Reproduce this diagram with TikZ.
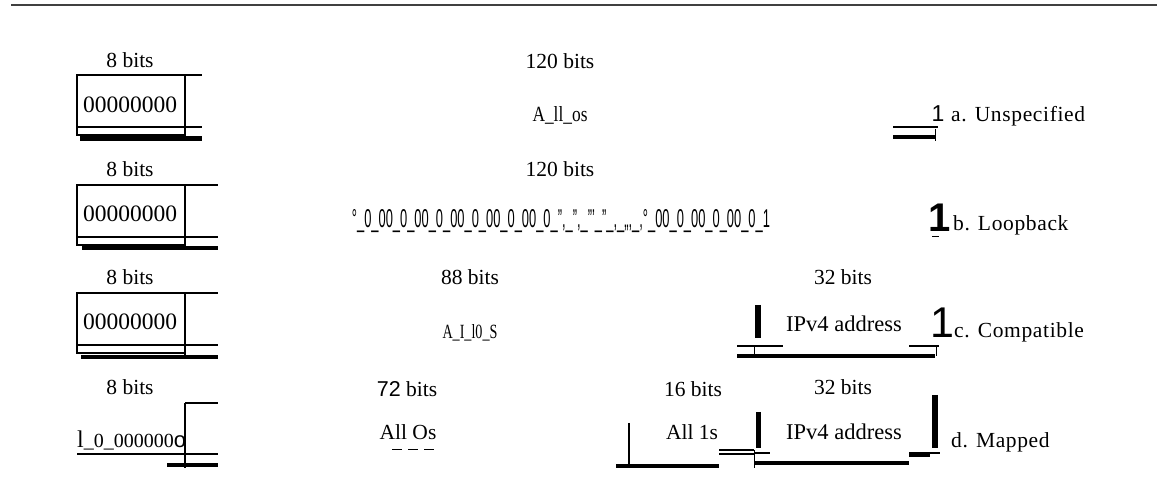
\documentclass[tikz,border=0pt]{standalone}
\usepackage{fontspec}
\setmainfont{Liberation Serif}
\setsansfont{Liberation Sans}
\newcommand{\lblfont}{\fontsize{21.5}{24}\selectfont}
\begin{document}
\begin{tikzpicture}[x=1pt,y=-1pt,
  lbl/.style={font=\lblfont, inner sep=0pt, anchor=base},
  lblw/.style={font=\lblfont\addfontfeature{LetterSpace=3}, inner sep=0pt, anchor=base west},
  boxnum/.style={font=\fontsize{23.5}{26}\selectfont, inner sep=0pt, anchor=base},
  thinln/.style={line width=1.2pt},
  thickln/.style={line width=4.5pt},
  barln/.style={line width=5.5pt}]
\useasboundingbox (0,0) rectangle (1157,502);
\draw[line width=1.5pt, black!75] (11,5) -- (1157,5);

% ---------- row a ----------
\node[lbl] (a8) at (130,68) {8 bits};
\draw[thinln] (77,75) rectangle (185,135);
\draw[thinln] (185,75) -- (202,75);
\draw[thinln] (77,127) -- (202,127);
\draw[line width=2pt] (185,75) -- (185,139);
\draw[thickln] (80,138.5) -- (202,138.5);
\node[boxnum] (anum) at (130,113) {00000000};
\node[lbl] (a120) at (560,69) {120 bits};
\node[inner sep=0pt, anchor=base] (aall) at (560,122) {\resizebox{55pt}{15pt}{A\_ll\_os}};
\node[inner sep=0pt, anchor=base, font=\sffamily\fontsize{23}{25}\selectfont] (aone) at (938,122) {1};
\draw[thinln] (893,127) -- (938,127);
\draw[thickln] (893,137) -- (935,137);
\draw[line width=1pt] (935,129) -- (935,141);
\node[lblw] (alab) at (951,122) {a. Unspecified};

% ---------- row b ----------
\node[lbl] (b8) at (130,177) {8 bits};
\draw[thinln] (77,185) rectangle (185,245);
\draw[thinln] (185,185) -- (218,185);
\draw[thinln] (77,237) -- (218,237);
\draw[line width=2pt] (185,185) -- (185,249);
\draw[thickln] (82,248) -- (218,248);
\node[boxnum] (bnum) at (130,222) {00000000};
\node[lbl] (b120) at (560,177) {120 bits};
\node[inner sep=0pt, anchor=base] (bstr) at (561,228) {\resizebox{418pt}{18pt}{\sffamily °\_0\_00\_0\_00\_0\_00\_0\_00\_0\_00\_0\_",\_",\_"'\_"\_,\_,,,\_,°\_00\_0\_00\_0\_00\_0\_1}};
\node[inner sep=0pt, anchor=base, font=\sffamily\bfseries\fontsize{40}{42}\selectfont] (bone) at (940,232) {1};
\draw[line width=1pt] (932,237) -- (939,237);
\node[lblw] (blab) at (953,231) {b. Loopback};

% ---------- row c ----------
\node[lbl] (c8) at (130,285) {8 bits};
\draw[thinln] (77,293) rectangle (185,353);
\draw[thinln] (185,293) -- (218,293);
\draw[thinln] (77,345) -- (218,345);
\draw[line width=2pt] (185,293) -- (185,358);
\draw[thickln] (81,357) -- (218,357);
\node[boxnum] (cnum) at (130,330) {00000000};
\node[lbl] (c88) at (470,285) {88 bits};
\node[inner sep=0pt, anchor=base] (call) at (470,339) {\resizebox{55pt}{14pt}{A\_I\_l0\_S}};
\node[lbl] (c32) at (843,285) {32 bits};
\draw[barln] (758,305) -- (758,338);
\node[lbl, font=\fontsize{22.5}{25}\selectfont] (cipv) at (844,332) {IPv4 address};
\draw[thinln] (737,346) -- (783,346);
\draw[thinln] (909,346) -- (939,346);
\draw[thickln] (737,356) -- (935,356);
\draw[line width=1pt] (754,346) -- (754,356);
\draw[line width=1pt] (936,346) -- (936,356);
\node[inner sep=0pt, anchor=base, font=\sffamily\fontsize{43}{45}\selectfont] (cone) at (942,338) {1};
\node[lblw] (clab) at (954,338) {c. Compatible};

% ---------- row d ----------
\node[lbl] (d8) at (130,395) {8 bits};
\draw[thinln] (185,403) -- (218,403);
\draw[line width=2pt] (185,403) -- (185,468);
\draw[thinln] (77,454) -- (218,454);
\draw[thickln] (167,465) -- (218,465);
\node[inner sep=0pt, anchor=base west] (dnum) at (77,447) {\fontsize{24}{26}\selectfont l\fontsize{20}{22}\selectfont\_0\_000000{\sffamily\fontsize{22}{24}\selectfont o}};
\node[lbl] (d72) at (407,397) {{\sffamily 72} bits};
\node[lbl] (dall0) at (408,440) {All Os};
\draw[line width=1pt, dash pattern=on 10pt off 6pt] (392,450) -- (437,450);
\node[lbl] (d16) at (693,397) {16 bits};
\draw[thinln] (629,423) -- (629,466);
\draw[thickln] (616,466) -- (719,466);
\node[lbl] (dall1) at (692,440) {All 1s};
\draw[thinln] (719,450) -- (754,450);
\draw[thinln] (719,454) -- (754,454);
\node[lbl] (d32) at (843,395) {32 bits};
\draw[barln] (758.5,412) -- (758.5,448);
\node[lbl, font=\fontsize{22.5}{25}\selectfont] (dipv) at (844,440) {IPv4 address};
\draw[line width=1pt] (754,450) -- (754,468);
\draw[thinln] (754,453) -- (770,453);
\draw[thickln] (754,463) -- (909,463);
\draw[thinln] (909,453) -- (940,453);
\draw[line width=3pt] (909,456) -- (930,456);
\draw[barln] (935,395) -- (935,448);
\node[lblw] (dlab) at (951,448) {d. Mapped};
\end{tikzpicture}
\end{document}
